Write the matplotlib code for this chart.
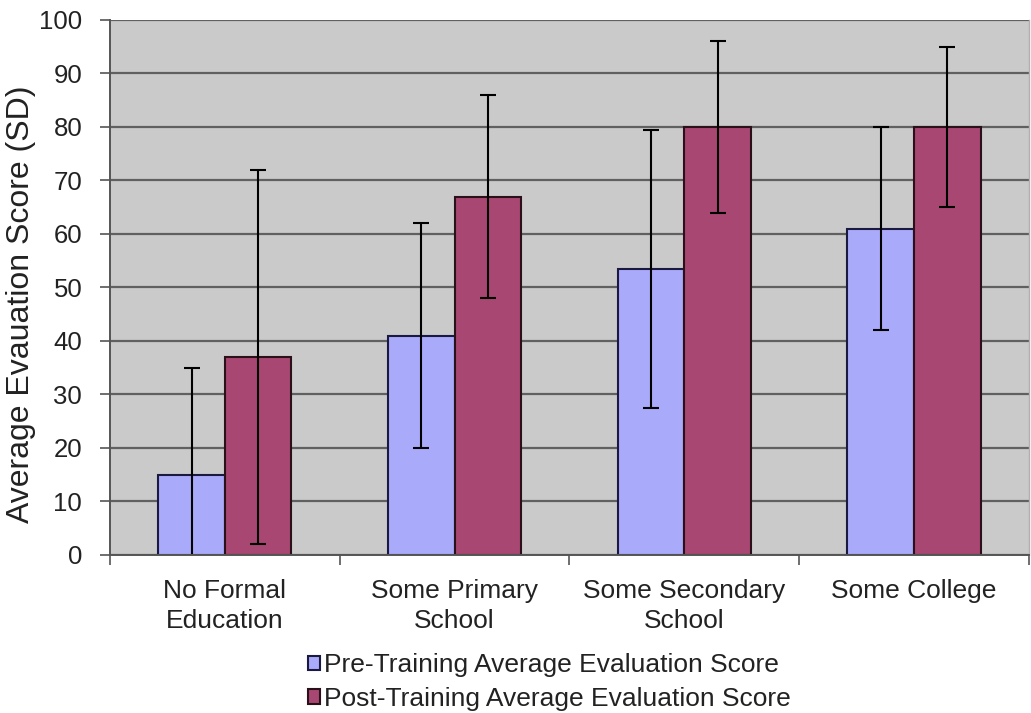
"""education level vs evaluation score - pre/post training bar chart"""
import numpy as np
import matplotlib
matplotlib.use('Agg')
import matplotlib.pyplot as plt

categories = ['No Formal\nEducation', 'Some Primary\nSchool', 'Some Secondary\nSchool', 'Some College']
pre_mean = [15, 41, 53.5, 61]
pre_sd = [20, 21, 26, 19]
post_mean = [37, 67, 80, 80]
post_sd = [35, 19, 16, 15]
labels = ['Pre-Training Average Evaluation Score', 'Post-Training Average Evaluation Score']

plt.rcParams['font.family'] = ['Liberation Sans', 'DejaVu Sans']

fig = plt.figure(figsize=(10.31, 7.13), dpi=100)
ax = fig.add_axes([0.1067, 0.2216, 0.8913, 0.7504])

x = np.arange(len(categories))
w = 0.29
ekw = dict(ecolor='black', elinewidth=1.5, capsize=6, capthick=1.5)
ax.bar(x - w/2, pre_mean, w, yerr=pre_sd, color='#AAAAFB', edgecolor='#1a1a40',
       linewidth=1.5, error_kw=ekw, label=labels[0], zorder=2)
ax.bar(x + w/2, post_mean, w, yerr=post_sd, color='#A94773', edgecolor='#2a1018',
       linewidth=1.5, error_kw=ekw, label=labels[1], zorder=2)

ax.set_facecolor('#CACACA')
ax.set_xlim(-0.5, len(categories) - 0.5)
ax.set_ylim(0, 100)
ax.set_yticks(np.arange(0, 101, 10))
ax.yaxis.grid(True, color='#606060', linewidth=1.6, zorder=0)
ax.set_axisbelow(True)

# category labels at centres, tick marks between categories
ax.set_xticks(x)
ax.set_xticklabels(categories, fontsize=19, linespacing=1.32)
ax.set_xticks(np.arange(-0.5, len(categories)), minor=True)
ax.tick_params(axis='x', which='major', length=0, pad=17.5)
ax.tick_params(axis='x', which='minor', length=7, width=1.2, color='#555555')
ax.tick_params(axis='y', labelsize=18.5, length=7, width=1.2, color='#555555', pad=13)
for t in ax.get_yticklabels() + ax.get_xticklabels():
    t.set_color('#222222')

for s in ['left', 'bottom']:
    ax.spines[s].set_color('#555555')
    ax.spines[s].set_linewidth(1.4)
ax.spines['top'].set_visible(False)
ax.spines['right'].set_color('#b0b0b0')
ax.spines['right'].set_linewidth(1.0)

ax.set_ylabel('Average Evauation Score (SD)', fontsize=23, color='#222222')
ax.yaxis.set_label_coords(-0.081, 0.469)

leg = fig.legend(loc='upper left', bbox_to_anchor=(0.299, 0.0836), frameon=False,
                 fontsize=19, handlelength=0.46, handleheight=0.46, handletextpad=0.15,
                 labelspacing=0.36, borderaxespad=0, borderpad=0)
for t in leg.get_texts():
    t.set_color('#222222')

plt.savefig('out.png', dpi=100)
